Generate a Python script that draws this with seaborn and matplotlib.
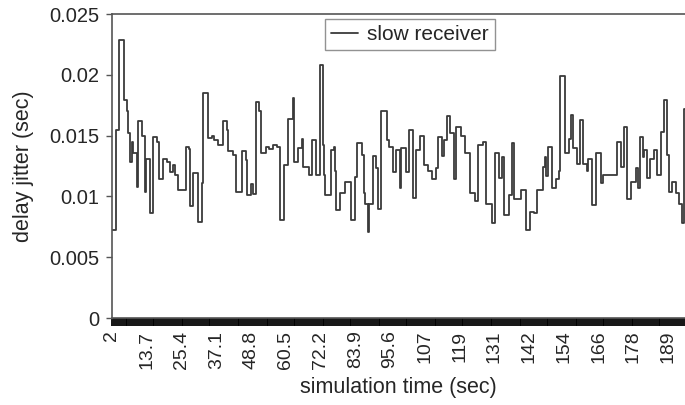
import numpy as np
import pandas as pd
import matplotlib
matplotlib.use("Agg")
import matplotlib.pyplot as plt
from matplotlib.ticker import FixedLocator
import seaborn as sns

# step start times (sec) and delay jitter values (sec)
time_s = [2.0, 3.35, 4.46, 6.04, 6.94, 7.48, 8.05, 8.62, 9.17, 10.3, 10.85, 12.2, 13.1, 13.44,
          14.8, 15.9, 17.0, 17.8, 19.05, 20.6, 21.5, 22.6, 23.2, 24.3, 26.9, 27.9, 28.2, 29.35,
          30.8, 32.3, 32.7, 34.4, 35.5, 36.3, 37.75, 39.2, 40.6, 41.1, 42.8, 43.7, 45.6, 47.0,
          47.3, 48.75, 49.3, 50.4, 51.45, 52.3, 53.7, 54.9, 56.25, 57.4, 58.7, 59.85, 61.3, 62.8,
          63.3, 64.7, 65.8, 66.4, 68.3, 69.2, 70.5, 71.97, 73.1, 73.3, 73.65, 75.56, 76.7, 77.0,
          77.35, 78.7, 80.4, 82.6, 83.7, 84.5, 86.0, 86.8, 87.1, 88.2, 88.6, 89.7, 90.7, 91.6,
          92.7, 94.4, 95.3, 96.6, 97.5, 98.9, 99.2, 100.9, 102.0, 103.4, 104.3, 105.6, 106.9,
          108.4, 109.75, 111.0, 111.8, 113.2, 113.7, 114.6, 115.7, 117.2, 117.9, 119.6, 120.7,
          122.4, 124.1, 125.2, 126.9, 128.0, 130.0, 130.8, 132.2, 133.1, 133.9, 135.5, 136.7,
          137.2, 139.5, 141.25, 142.6, 143.9, 145.2, 147.1, 147.6, 148.2, 148.8, 150.2, 151.3,
          152.5, 152.9, 154.4, 155.8, 156.4, 157.2, 158.5, 159.4, 160.5, 161.7, 162.2, 163.7,
          165.0, 166.5, 167.3, 172.1, 173.2, 174.3, 175.3, 176.6, 178.2, 179.0, 179.8, 180.7,
          181.1, 182.1, 183.0, 184.3, 185.5, 186.9, 187.7, 188.8, 189.3, 190.6, 191.7, 192.8,
          193.9, 194.5, 195.0]
jitter = [0.0072, 0.0155, 0.0229, 0.0179, 0.0170, 0.0152, 0.0128, 0.0145, 0.0136, 0.0108, 0.0162,
          0.0150, 0.0104, 0.0131, 0.0086, 0.0149, 0.0145, 0.0114, 0.0131, 0.0128, 0.0120, 0.0126,
          0.0118, 0.0105, 0.0141, 0.0139, 0.0092, 0.0119, 0.0079, 0.0111, 0.0185, 0.0148, 0.0150,
          0.0146, 0.0142, 0.0162, 0.0155, 0.0137, 0.0134, 0.0104, 0.0137, 0.0130, 0.0101, 0.0110,
          0.0102, 0.0178, 0.0170, 0.0136, 0.0141, 0.0139, 0.0142, 0.0141, 0.0081, 0.0126, 0.0164,
          0.0181, 0.0128, 0.0140, 0.0147, 0.0124, 0.0118, 0.0146, 0.0118, 0.0208, 0.0142, 0.0118,
          0.0101, 0.0138, 0.0141, 0.0121, 0.0089, 0.0103, 0.0112, 0.0081, 0.0116, 0.0144, 0.0134,
          0.0103, 0.0094, 0.0071, 0.0094, 0.0133, 0.0123, 0.0090, 0.0170, 0.0146, 0.0141, 0.0120,
          0.0138, 0.0107, 0.0140, 0.0120, 0.0155, 0.0099, 0.0138, 0.0150, 0.0126, 0.0121, 0.0114,
          0.0123, 0.0149, 0.0133, 0.0146, 0.0166, 0.0152, 0.0114, 0.0157, 0.0150, 0.0136, 0.0103,
          0.0096, 0.0142, 0.0145, 0.0094, 0.0078, 0.0136, 0.0115, 0.0132, 0.0085, 0.0101, 0.0144,
          0.0098, 0.0105, 0.0072, 0.0087, 0.0086, 0.0105, 0.0124, 0.0132, 0.0117, 0.0141, 0.0107,
          0.0114, 0.0121, 0.0199, 0.0136, 0.0147, 0.0167, 0.0140, 0.0127, 0.0163, 0.0127, 0.0121,
          0.0131, 0.0093, 0.0136, 0.0111, 0.0118, 0.0145, 0.0124, 0.0157, 0.0098, 0.0112, 0.0123,
          0.0107, 0.0149, 0.0132, 0.0138, 0.0115, 0.0131, 0.0138, 0.0118, 0.0153, 0.0179, 0.0134,
          0.0104, 0.0112, 0.0103, 0.0094, 0.0078, 0.0172, 0.0172]

x_tick_values = [2, 13.7, 25.4, 37.1, 48.8, 60.5, 72.2, 83.9, 95.6, 107.3, 119.0, 130.7,
                 142.4, 154.1, 165.8, 177.5, 189.2]
x_tick_labels = ["2", "13.7", "25.4", "37.1", "48.8", "60.5", "72.2", "83.9", "95.6",
                 "107", "119", "131", "142", "154", "166", "178", "189"]
y_tick_values = [0, 0.005, 0.01, 0.015, 0.02, 0.025]
y_tick_labels = ["0", "0.005", "0.01", "0.015", "0.02", "0.025"]
sample_step = 0.65

sns.set_style("white")
plt.rcParams['font.family'] = ['Liberation Sans', 'DejaVu Sans']

df = pd.DataFrame({"time": time_s, "jitter": jitter})

fig = plt.figure(figsize=(6.85, 4.05), dpi=100)
ax = fig.add_axes([0.1635, 0.2148, 0.8365, 0.7506])

sns.lineplot(data=df, x="time", y="jitter", ax=ax, drawstyle="steps-post",
             color="#3a3a3a", linewidth=1.3, label="slow receiver")

ax.set_xlim(2, 194.85)
ax.set_ylim(0, 0.025)

ax.set_xticks(x_tick_values)
ax.set_xticklabels(x_tick_labels, rotation=90, fontsize=14)
ax.xaxis.set_minor_locator(FixedLocator(np.arange(2, 195, sample_step)))
ax.tick_params(axis="x", which="both", direction="out", length=6, width=1.3,
               color="black", bottom=True, pad=3)
ax.set_yticks(y_tick_values)
ax.set_yticklabels(y_tick_labels, fontsize=14.5)
ax.tick_params(axis="y", direction="out", length=4, width=1, color="#555555",
               left=True, pad=5)

for side in ["left", "top", "bottom"]:
    ax.spines[side].set_visible(True)
    ax.spines[side].set_color("#555555")
    ax.spines[side].set_linewidth(1.2)
ax.spines["right"].set_visible(False)

ax.set_xlabel("simulation time (sec)", fontsize=15.5, labelpad=6)
ax.set_ylabel("delay jitter (sec)", fontsize=15.5, labelpad=11)

leg = ax.legend(loc="upper center", bbox_to_anchor=(0.52, 0.985), fontsize=15,
                frameon=True, fancybox=False, handlelength=1.3, handletextpad=0.45,
                borderpad=0.3, borderaxespad=0.0)
leg.get_frame().set_edgecolor("#777777")
leg.get_frame().set_linewidth(1.0)

fig.savefig("out.png", dpi=100)
